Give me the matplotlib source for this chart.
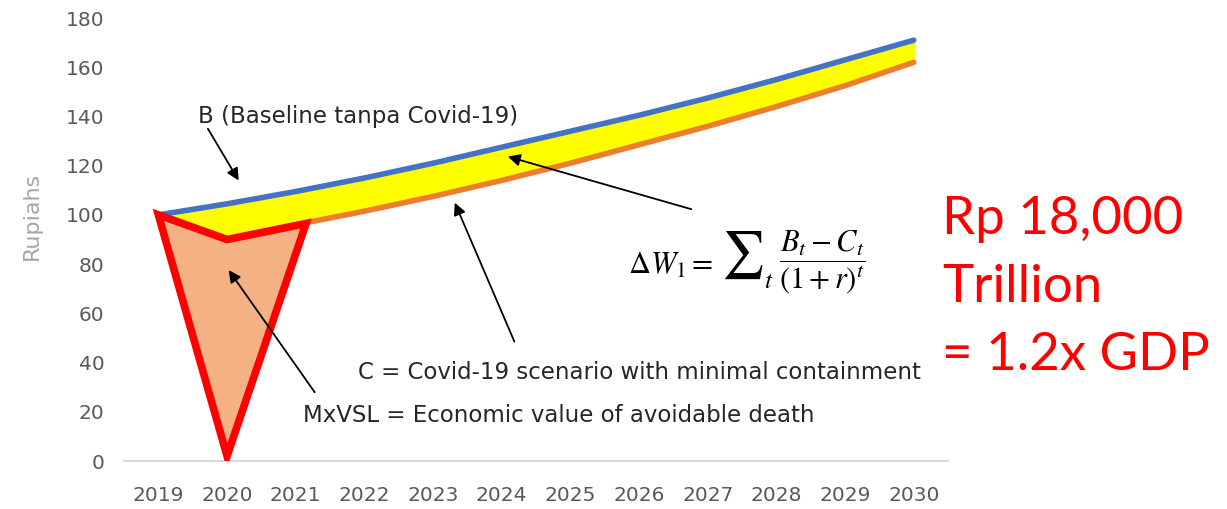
import matplotlib
matplotlib.use("Agg")
import matplotlib.pyplot as plt
from matplotlib.patches import Polygon

# Rupiah paths, baseline vs covid scenario
years = [2019, 2020, 2021, 2022, 2023, 2024, 2025, 2026, 2027, 2028, 2029, 2030]
baseline = [100, 104.5, 109.5, 115, 121, 127.5, 134, 140.5, 147.5, 155, 163, 171]
covid = [100, 90, 96, 101.5, 107.5, 114, 121, 128.5, 136, 144, 152.5, 162]

# avoidable-death triangle (year, value)
death_x = [2019, 2020, 2021.15, 2020]
death_y = [100, 90, 96.5, 2]

yticks = [0, 20, 40, 60, 80, 100, 120, 140, 160, 180]

gray = "#595959"
font = "DejaVu Sans"

W, H = 1227, 509
fig = plt.figure(figsize=(W / 100, H / 100), dpi=100)
ax = fig.add_axes([0.1011, 0.0943, 0.6716, 0.8703])

ax.fill_between(years, covid, baseline, color="#FFFF00", zorder=1)
ax.plot(years, baseline, color="#4472C4", lw=4, solid_capstyle="round", zorder=3)
ax.plot(years, covid, color="#ED7D31", lw=4, solid_capstyle="round", zorder=2)

tri = Polygon(list(zip(death_x, death_y)), closed=True, facecolor="#F4B183",
              edgecolor="#FF0000", lw=5.5, joinstyle="miter", zorder=4)
ax.add_patch(tri)

ax.set_xlim(2018.5, 2030.5)
ax.set_ylim(0, 180)
ax.set_xticks(years)
ax.set_xticklabels([str(y) for y in years])
ax.set_yticks(yticks)
for s in ["top", "right", "left"]:
    ax.spines[s].set_visible(False)
ax.spines["bottom"].set_color("#D9D9D9")
ax.spines["bottom"].set_linewidth(1.5)
ax.tick_params(axis="both", length=0, labelsize=14.5, labelcolor=gray)
ax.tick_params(axis="x", pad=18)
ax.tick_params(axis="y", pad=14)
for lab in ax.get_xticklabels() + ax.get_yticklabels():
    lab.set_family(font)
ax.set_ylabel("Rupiahs", fontsize=16, color="#A6A6A6", family=font)
ax.yaxis.set_label_coords(-0.100, 0.553)

arrow = dict(arrowstyle="-|>", color="black", lw=1.3, mutation_scale=18)
txt = dict(fontsize=16.5, family=font, color="#262626", va="center")

ax.text(2019.57, 140, "B (Baseline tanpa Covid-19)", **txt)
ax.annotate("", xy=(2020.19, 113), xytext=(2019.7, 136), arrowprops=arrow, zorder=6)
ax.annotate("", xy=(2024.05, 124), xytext=(2026.8, 102), arrowprops=arrow, zorder=6)
ax.annotate("", xy=(2023.3, 106), xytext=(2024.2, 47.5), arrowprops=arrow, zorder=6)
ax.annotate("", xy=(2020.0, 78.5), xytext=(2021.3, 27), arrowprops=arrow, zorder=6)

ax.text(2021.9, 36, "C = Covid-19 scenario with minimal containment", **txt)
ax.text(2021.1, 18.5, "MxVSL = Economic value of avoidable death", **txt)

# welfare-loss formula, with a display-size sum sign
math = dict(math_fontfamily="stix", va="center", ha="left", color="black")
fig.text(628 / W, 1 - 265 / H, r"$\Delta W_1 =$", fontsize=22, **math)
fig.text(721 / W, 1 - 255 / H, r"$\sum$", fontsize=34, **math)
fig.text(764 / W, 1 - 281 / H, r"$t$", fontsize=18, **math)
fig.text(779 / W, 1 - 262 / H, r"$\dfrac{B_t - C_t}{(1+r)^t}$", fontsize=22, **math)

fig.text(0.768, 0.435, "Rp 18,000\nTrillion\n= 1.2x GDP", fontsize=38,
         family="Lato", color="#FF0000", va="center", ha="left", linespacing=1.55)

fig.savefig("out.png", dpi=100)
